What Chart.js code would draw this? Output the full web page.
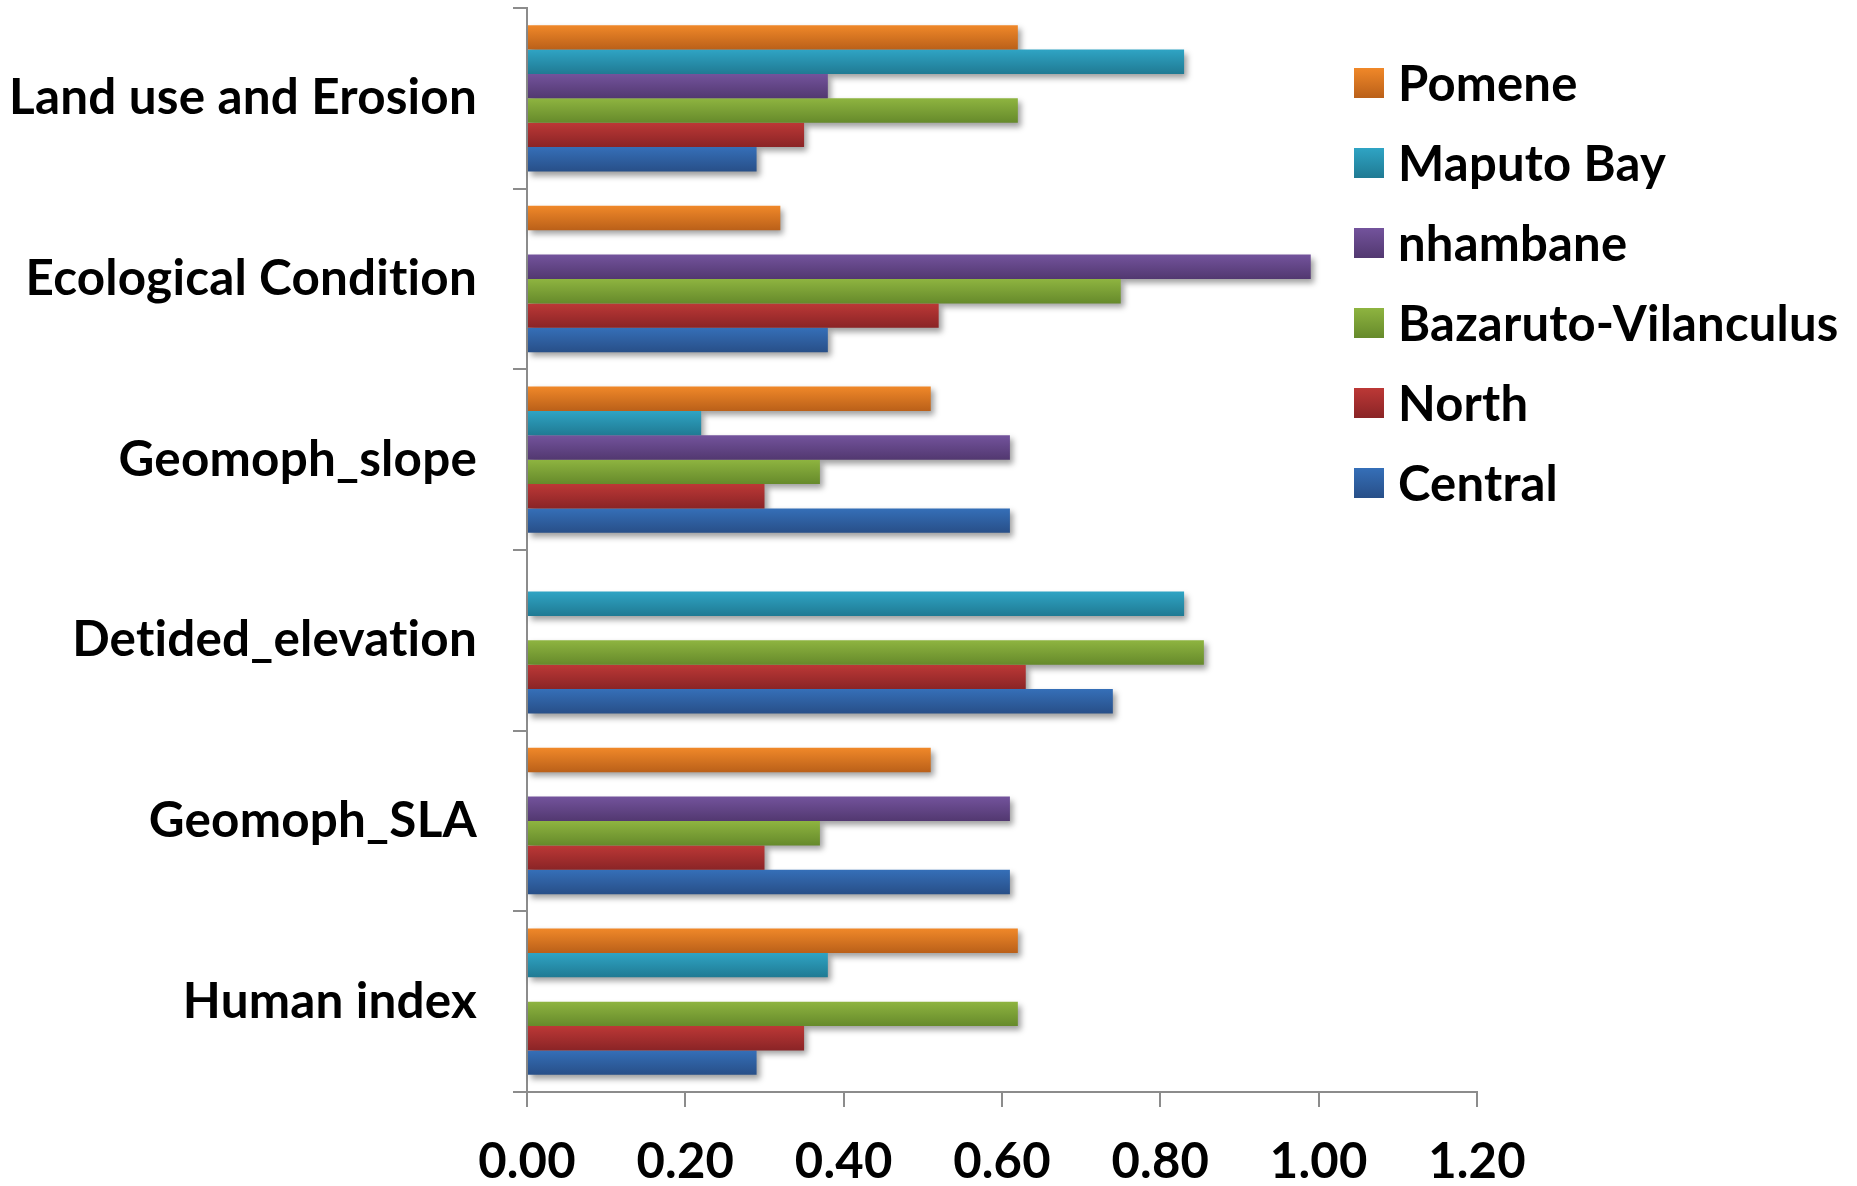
<!DOCTYPE html>
<html>
<head>
<meta charset="utf-8">
<script src="https://cdn.jsdelivr.net/npm/chart.js@4.4.1/dist/chart.umd.min.js"></script>
<style>
  html, body { margin: 0; padding: 0; background: #ffffff; }
  #wrap { width: 1857px; height: 1186px; position: relative; }
</style>
</head>
<body>
<div id="wrap"><canvas id="chart" width="1857" height="1186"></canvas></div>
<script>
// Indicator categories, listed top to bottom
const categories = [
  'Land use and Erosion',
  'Ecological Condition',
  'Geomoph_slope',
  'Detided_elevation',
  'Geomoph_SLA',
  'Human index'
];

// Series names (legend order, also bar order inside each group)
const seriesNames = ['Pomene', 'Maputo Bay', 'nhambane', 'Bazaruto-Vilanculus', 'North', 'Central'];

// Index values per series (null = no value for that indicator)
const pomene     = [0.62, 0.32, 0.51, null, 0.51, 0.62];
const maputoBay  = [0.83, null, 0.22, 0.83, null, 0.38];
const nhambane   = [0.38, 0.99, 0.61, null, 0.61, null];
const bazaruto   = [0.62, 0.75, 0.37, 0.855, 0.37, 0.62];
const north      = [0.35, 0.52, 0.30, 0.63, 0.30, 0.35];
const central    = [0.29, 0.38, 0.61, 0.74, 0.61, 0.29];

// Value axis ticks
const xTicks = [0, 0.2, 0.4, 0.6, 0.8, 1.0, 1.2];

// Fill gradient (top, bottom) for each series
const seriesColors = [
  ['#F08829', '#BA6019'],
  ['#2FA4C4', '#207A93'],
  ['#73539C', '#523870'],
  ['#8EB440', '#668A2B'],
  ['#BC3836', '#8A2426'],
  ['#356FB8', '#284F88']
];

const seriesValues = [pomene, maputoBay, nhambane, bazaruto, north, central];

const FONT = 'Lato, "Open Sans", sans-serif';

function barRect(el) {
  const p = el.getProps(['x', 'y', 'base', 'height'], true);
  if (!Number.isFinite(p.x) || !Number.isFinite(p.base)) return null;
  const left = Math.min(p.x, p.base);
  const right = Math.max(p.x, p.base);
  return { left, top: p.y - p.height / 2, width: right - left, height: p.height };
}

// Plain letters (no ligatures) for every label drawn on the canvas
const textStylePlugin = {
  id: 'textStyle',
  beforeDraw(chart) {
    chart.ctx.letterSpacing = '0.2px';
  }
};

// Soft drop shadow under every bar, then a vertical gradient fill on each bar
const barStylePlugin = {
  id: 'barStyle',
  beforeDatasetsDraw(chart) {
    const ctx = chart.ctx;
    const OFF = 5000;
    ctx.save();
    ctx.shadowColor = 'rgba(0,0,0,0.38)';
    ctx.shadowBlur = 6;
    ctx.shadowOffsetX = OFF + 3;
    ctx.shadowOffsetY = 4;
    ctx.fillStyle = '#000';
    chart.data.datasets.forEach((ds, di) => {
      const meta = chart.getDatasetMeta(di);
      meta.data.forEach((el, i) => {
        if (ds.data[i] === null) return;
        const r = barRect(el);
        if (!r || r.width <= 0) return;
        ctx.fillRect(r.left - OFF, r.top, r.width, r.height);
        const g = ctx.createLinearGradient(0, r.top, 0, r.top + r.height);
        g.addColorStop(0, seriesColors[di][0]);
        g.addColorStop(1, seriesColors[di][1]);
        el.options = Object.assign({}, el.options, { backgroundColor: g });
      });
    });
    ctx.restore();
  }
};

// Legend to the right of the bars
const LEGEND = { x: 1354, top: 83, gap: 80, box: 30, textX: 1398, fontSize: 49 };
const sideLegendPlugin = {
  id: 'sideLegend',
  afterDraw(chart) {
    const ctx = chart.ctx;
    ctx.save();
    ctx.letterSpacing = '0.2px';
    chart.data.datasets.forEach((ds, i) => {
      const cy = LEGEND.top + i * LEGEND.gap;
      const t = cy - LEGEND.box / 2;
      const g = ctx.createLinearGradient(0, t, 0, t + LEGEND.box);
      g.addColorStop(0, seriesColors[i][0]);
      g.addColorStop(1, seriesColors[i][1]);
      ctx.fillStyle = g;
      ctx.fillRect(LEGEND.x, t, LEGEND.box, LEGEND.box);
      ctx.fillStyle = '#000000';
      ctx.font = 'bold ' + LEGEND.fontSize + 'px ' + FONT;
      ctx.textAlign = 'left';
      ctx.textBaseline = 'alphabetic';
      ctx.fillText(ds.label, LEGEND.textX, cy + LEGEND.fontSize * 0.36);
    });
    ctx.restore();
  }
};

const axisGray = '#8C8C8C';

new Chart(document.getElementById('chart'), {
  type: 'bar',
  data: {
    labels: categories,
    datasets: seriesNames.map((name, i) => ({
      label: name,
      data: seriesValues[i],
      backgroundColor: seriesColors[i][0],
      borderWidth: 0,
      categoryPercentage: 0.81,
      barPercentage: 1.0
    }))
  },
  options: {
    indexAxis: 'y',
    responsive: false,
    animation: false,
    devicePixelRatio: 1,
    layout: { padding: { top: 8, right: 380, bottom: 0, left: 0 } },
    plugins: {
      legend: { display: false },
      tooltip: { enabled: false }
    },
    scales: {
      x: {
        type: 'linear',
        min: 0,
        max: 1.2,
        afterBuildTicks(scale) {
          scale.ticks = xTicks.map(v => ({ value: v }));
        },
        afterFit(scale) {
          scale.height = 94;
          scale.paddingLeft = 0;
          scale.paddingRight = 0;
        },
        grid: {
          drawOnChartArea: false,
          drawTicks: true,
          tickLength: 15,
          color: axisGray,
          lineWidth: 2
        },
        border: { display: true, color: axisGray, width: 2 },
        ticks: {
          padding: 26,
          color: '#000000',
          font: { family: FONT, size: 49, weight: 'bold' },
          callback: v => Number(v).toFixed(2)
        }
      },
      y: {
        type: 'category',
        offset: true,
        afterFit(scale) {
          scale.width = 527;
          scale.paddingTop = 0;
          scale.paddingBottom = 0;
        },
        grid: {
          offset: true,
          drawOnChartArea: false,
          drawTicks: true,
          tickLength: 14,
          color: axisGray,
          lineWidth: 2
        },
        border: { display: true, color: axisGray, width: 2 },
        ticks: {
          padding: 36,
          color: '#000000',
          font: { family: FONT, size: 49.4, weight: 'bold' }
        }
      }
    }
  },
  plugins: [textStylePlugin, barStylePlugin, sideLegendPlugin]
});
</script>
</body>
</html>
